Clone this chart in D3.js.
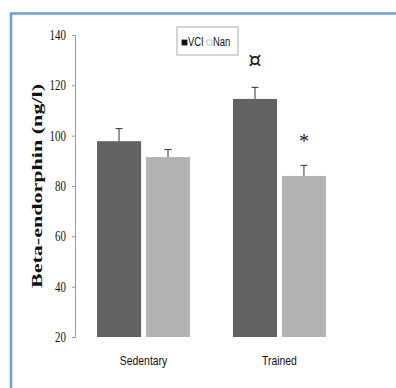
<!DOCTYPE html>
<html>
<head>
<meta charset="utf-8">
<script src="https://cdn.jsdelivr.net/npm/d3@7"></script>
<style>
  body { margin: 0; background: #fff; }
  svg { display: block; }
</style>
</head>
<body>
<div id="chart"></div>
<script>
// data
const categories = ["Sedentary", "Trained"];
const seriesNames = ["VCI", "Nan"];
const vciValues = [97.8, 114.6];
const nanValues = [91.5, 84.0];
const vciErrors = [5.0, 4.6];
const nanErrors = [3.0, 4.2];
const yTicks = [20, 40, 60, 80, 100, 120, 140];
const markLabels = [["Trained", "VCI", "\u00a4"], ["Trained", "Nan", "*"]];
const seriesColors = ["#626262", "#b3b3b3"];

const width = 396, height = 388;

const svg = d3.select("#chart").append("svg")
    .attr("width", width)
    .attr("height", height);

// outer frame
svg.append("rect")
    .attr("x", 11).attr("y", 13.5)
    .attr("width", 400).attr("height", 400)
    .attr("fill", "none")
    .attr("stroke", "#6d9fd6")
    .attr("stroke-width", 2.5);

const xScale = d3.scaleBand()
    .domain(categories)
    .range([75, 348])
    .paddingInner(0.316)
    .paddingOuter(0.162);

const xInner = d3.scaleBand()
    .domain(seriesNames)
    .range([0, xScale.bandwidth()])
    .paddingInner(0.1);

const yScale = d3.scaleLinear()
    .domain([20, 140])
    .range([337, 35]);

const color = d3.scaleOrdinal().domain(seriesNames).range(seriesColors);

const rows = [];
categories.forEach((c, i) => {
    rows.push({cat: c, s: "VCI", v: vciValues[i], e: vciErrors[i]});
    rows.push({cat: c, s: "Nan", v: nanValues[i], e: nanErrors[i]});
});

// bars
svg.selectAll(".bar")
    .data(rows)
    .join("rect")
    .attr("class", "bar")
    .attr("x", d => xScale(d.cat) + xInner(d.s))
    .attr("y", d => yScale(d.v))
    .attr("width", xInner.bandwidth())
    .attr("height", d => yScale(20) - yScale(d.v))
    .attr("fill", d => color(d.s));

// error bars (upper only)
const errG = svg.selectAll(".err")
    .data(rows)
    .join("g")
    .attr("class", "err")
    .attr("transform", d => `translate(${xScale(d.cat) + xInner(d.s) + xInner.bandwidth() / 2},0)`);

errG.append("line")
    .attr("x1", 0).attr("x2", 0)
    .attr("y1", d => yScale(d.v))
    .attr("y2", d => yScale(d.v + d.e))
    .attr("stroke", "#333").attr("stroke-width", 1);

errG.append("line")
    .attr("x1", -3.5).attr("x2", 3.5)
    .attr("y1", d => yScale(d.v + d.e))
    .attr("y2", d => yScale(d.v + d.e))
    .attr("stroke", "#333").attr("stroke-width", 1);

// y axis
const yAxis = d3.axisLeft(yScale)
    .tickValues(yTicks)
    .tickSizeOuter(0)
    .tickSize(3)
    .tickPadding(6);

const yG = svg.append("g")
    .attr("transform", "translate(75,0)")
    .call(yAxis);
yG.select(".domain").attr("stroke", "#999");
yG.selectAll(".tick line").attr("stroke", "#999");
yG.selectAll(".tick text")
    .attr("x", 0)
    .attr("font-family", "Liberation Serif")
    .attr("font-size", 14)
    .attr("fill", "#111")
    .attr("transform", "translate(-9,0) scale(0.78,1)")
    .attr("text-anchor", "end");

// x category labels
svg.selectAll(".xlab")
    .data(categories)
    .join("text")
    .attr("class", "xlab")
    .attr("transform", d => `translate(${xScale(d) + xScale.bandwidth() / 2},365) scale(0.8,1)`)
    .attr("text-anchor", "middle")
    .attr("font-family", "Liberation Sans")
    .attr("font-size", 13)
    .attr("fill", "#111")
    .text(d => d);

// y title
svg.append("text")
    .attr("transform", "translate(42,186) rotate(-90)")
    .attr("text-anchor", "middle")
    .attr("font-family", "Liberation Serif")
    .attr("font-weight", "bold")
    .attr("font-size", 15)
    .attr("textLength", 204)
    .attr("lengthAdjust", "spacingAndGlyphs")
    .attr("fill", "#111")
    .text("Beta-endorphin (ng/l)");

// significance marks
svg.selectAll(".mark")
    .data(markLabels)
    .join("text")
    .attr("class", "mark")
    .attr("x", d => xScale(d[0]) + xInner(d[1]) + xInner.bandwidth() / 2)
    .attr("y", d => {
        const i = categories.indexOf(d[0]);
        const v = d[1] === "VCI" ? vciValues[i] + vciErrors[i] : nanValues[i] + nanErrors[i];
        return yScale(v) - (d[1] === "VCI" ? 20 : 17);
    })
    .attr("text-anchor", "middle")
    .attr("font-family", d => d[2] === "*" ? "Liberation Serif" : "DejaVu Sans")
    .attr("font-size", d => d[2] === "*" ? 20 : 21)
    .attr("fill", "#222")
    .text(d => d[2]);

// legend
const lg = svg.append("g").attr("transform", "translate(177,27)");
lg.append("rect")
    .attr("width", 61).attr("height", 28)
    .attr("fill", "#fff")
    .attr("stroke", "#c9c9c9")
    .attr("stroke-width", 1.5);

const legendItems = [
    {name: seriesNames[0], x: 5, tx: 11},
    {name: seriesNames[1], x: 30, tx: 36}
];
lg.selectAll(".lsw")
    .data(legendItems)
    .join("rect")
    .attr("class", "lsw")
    .attr("x", d => d.x).attr("y", 13)
    .attr("width", 5).attr("height", 5)
    .attr("fill", d => d.name === "VCI" ? "#111" : "#fff")
    .attr("stroke", d => d.name === "VCI" ? "#111" : "#b8b8b8")
    .attr("stroke-width", 0.8);

lg.selectAll(".ltx")
    .data(legendItems)
    .join("text")
    .attr("class", "ltx")
    .attr("transform", d => `translate(${d.tx},19) scale(0.7,1)`)
    .attr("font-family", "Liberation Sans")
    .attr("font-size", 13.5)
    .attr("fill", "#111")
    .text(d => d.name);
</script>
</body>
</html>
